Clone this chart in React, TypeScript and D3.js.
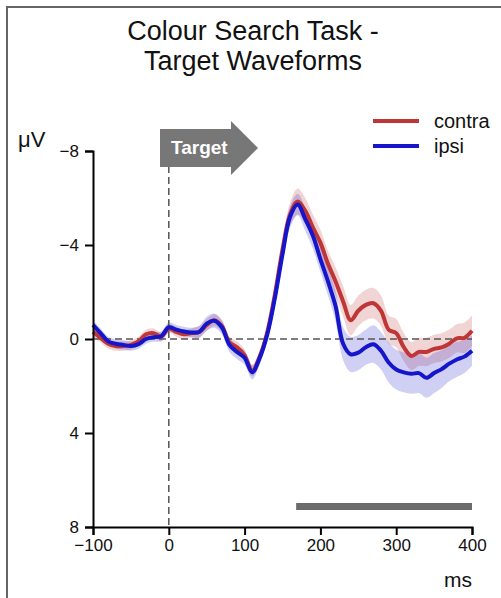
// ERP waveforms for the colour search task: contra vs ipsi, with SEM bands
import React, { useEffect, useRef } from 'react';
import * as d3 from 'd3';

const times = [-100, -90, -80, -70, -60, -50, -40, -30, -20, -10, 0, 10, 20, 30, 40, 50, 60, 70, 80, 90, 100,
  110, 120, 130, 140, 150, 160, 170, 180, 190, 200, 210, 220, 230, 240, 250, 260, 270, 280, 290, 300,
  310, 320, 330, 340, 350, 360, 370, 380, 390, 400];

const contra = [-0.3, -0.05, 0.2, 0.3, 0.3, 0.25, 0.1, -0.2, -0.25, -0.1, -0.45, -0.3, -0.2, -0.25, -0.3, -0.6, -0.8, -0.55, 0.15, 0.35, 0.7,
  1.35, 0.75, -0.3, -1.9, -3.8, -5.3, -5.85, -5.45, -4.75, -4.1, -3.2, -2.45, -1.6, -0.8, -1.2, -1.45, -1.52, -1.2, -0.4, -0.25,
  0.35, 0.72, 0.55, 0.55, 0.42, 0.36, 0.2, -0.03, -0.05, -0.35];

const ipsi = [-0.6, -0.25, 0.1, 0.2, 0.25, 0.3, 0.22, 0.0, -0.08, -0.12, -0.5, -0.4, -0.32, -0.28, -0.3, -0.65, -0.78, -0.5, 0.25, 0.55, 0.8,
  1.42, 0.8, -0.2, -1.75, -3.6, -5.2, -5.72, -5.1, -4.4, -3.4, -2.45, -1.4, 0.2, 0.65, 0.58, 0.35, 0.22, 0.5, 1.0, 1.3,
  1.42, 1.48, 1.45, 1.65, 1.45, 1.28, 1.05, 0.87, 0.75, 0.5];

const contraSem = [0.2, 0.2, 0.2, 0.2, 0.2, 0.2, 0.2, 0.2, 0.2, 0.2, 0.2, 0.2, 0.2, 0.2, 0.25, 0.25, 0.25, 0.25, 0.25, 0.25, 0.25,
  0.25, 0.25, 0.3, 0.35, 0.45, 0.5, 0.55, 0.55, 0.55, 0.55, 0.55, 0.6, 0.65, 0.65, 0.65, 0.65, 0.65, 0.65, 0.6, 0.6,
  0.6, 0.6, 0.6, 0.6, 0.6, 0.6, 0.6, 0.6, 0.65, 0.65];

const ipsiSem = [0.2, 0.2, 0.2, 0.2, 0.2, 0.2, 0.2, 0.2, 0.2, 0.2, 0.2, 0.2, 0.2, 0.2, 0.25, 0.3, 0.3, 0.3, 0.3, 0.3, 0.3,
  0.3, 0.3, 0.3, 0.35, 0.4, 0.45, 0.45, 0.5, 0.55, 0.55, 0.6, 0.65, 0.7, 0.75, 0.75, 0.75, 0.8, 0.8, 0.85, 0.85,
  0.85, 0.85, 0.85, 0.85, 0.85, 0.8, 0.75, 0.75, 0.7, 0.65];

const yTicks = [-8, -4, 0, 4, 8];
const xTicks = [-100, 0, 100, 200, 300, 400];
const sigWindow = [168, 400];
const legendLabels = ['contra', 'ipsi'];

const App = () => {
  const svgRef = useRef<SVGSVGElement>(null);

  useEffect(() => {
    const width = 501;
    const height = 598;
    const font = '"Liberation Sans", Arial, sans-serif';
    const svg = d3.select(svgRef.current)
      .attr('width', width)
      .attr('height', height)
      .style('font-family', font);
    svg.selectAll('*').remove();

    const x = d3.scaleLinear().domain([-100, 400]).range([93, 472]);
    const y = d3.scaleLinear().domain([-8, 8]).range([151, 527]);

    // frame
    svg.append('path')
      .attr('d', `M7,${height} L7,7 L${width},7`)
      .attr('fill', 'none')
      .attr('stroke', '#666')
      .attr('stroke-width', 2);

    // title
    const title = svg.append('text')
      .attr('x', 253)
      .attr('text-anchor', 'middle')
      .attr('font-size', 27)
      .attr('fill', '#111');
    title.append('tspan').attr('x', 253).attr('y', 40).text('Colour Search Task -');
    title.append('tspan').attr('x', 253).attr('y', 70).text('Target Waveforms');

    const series = [
      { name: legendLabels[0], vals: contra, sem: contraSem, color: '#c03535', fill: 'rgba(192, 60, 60, 0.22)' },
      { name: legendLabels[1], vals: ipsi, sem: ipsiSem, color: '#1515cc', fill: 'rgba(40, 40, 210, 0.22)' },
    ];

    // sem bands
    series.forEach(s => {
      const area = d3.area<number>()
        .x((_, i) => x(times[i]))
        .y0((d, i) => y(d - s.sem[i]))
        .y1((d, i) => y(d + s.sem[i]))
        .curve(d3.curveCatmullRom);
      svg.append('path')
        .attr('d', area(s.vals))
        .attr('fill', s.fill);
    });

    // dashed reference lines
    svg.append('line')
      .attr('x1', x(-100)).attr('x2', x(400))
      .attr('y1', y(0)).attr('y2', y(0))
      .attr('stroke', '#555').attr('stroke-width', 1.5)
      .attr('stroke-dasharray', '7,4');
    svg.append('line')
      .attr('x1', x(0)).attr('x2', x(0))
      .attr('y1', 155).attr('y2', y(8))
      .attr('stroke', '#555').attr('stroke-width', 1.5)
      .attr('stroke-dasharray', '7,4');

    // waveforms
    series.forEach(s => {
      const line = d3.line<number>()
        .x((_, i) => x(times[i]))
        .y(d => y(d))
        .curve(d3.curveCatmullRom);
      svg.append('path')
        .attr('d', line(s.vals))
        .attr('fill', 'none')
        .attr('stroke', s.color)
        .attr('stroke-width', 4)
        .attr('stroke-linejoin', 'round');
    });

    // significance bar
    svg.append('rect')
      .attr('x', x(sigWindow[0]))
      .attr('width', x(sigWindow[1]) - x(sigWindow[0]))
      .attr('y', 503)
      .attr('height', 7)
      .attr('fill', '#6b6b6b');

    // axes
    const yAxis = svg.append('g')
      .attr('transform', `translate(${x(-100)},0)`)
      .call(d3.axisLeft(y).tickValues(yTicks).tickSizeOuter(0).tickSize(8).tickPadding(6));
    const xAxis = svg.append('g')
      .attr('transform', `translate(0,${y(8)})`)
      .call(d3.axisBottom(x).tickValues(xTicks).tickSizeOuter(0).tickSize(8).tickPadding(4));
    [yAxis, xAxis].forEach(a => {
      a.selectAll('path, line').attr('stroke', '#000').attr('stroke-width', 2);
      a.selectAll('text').attr('font-size', 17).attr('font-family', font).attr('fill', '#111');
    });

    svg.append('text').attr('x', 18).attr('y', 147).attr('font-size', 22).attr('fill', '#111').text('μV');
    svg.append('text').attr('x', 472).attr('y', 587).attr('text-anchor', 'end').attr('font-size', 21).attr('fill', '#111').text('ms');

    // target arrow
    svg.append('path')
      .attr('d', 'M160,129 L231,129 L231,121 L258,148 L231,175 L231,167 L160,167 Z')
      .attr('fill', '#777');
    svg.append('text')
      .attr('x', 171).attr('y', 154)
      .attr('font-size', 19).attr('font-weight', 'bold').attr('fill', '#fff')
      .text('Target');

    // legend
    series.forEach((s, i) => {
      const ly = 121 + i * 25;
      svg.append('line')
        .attr('x1', 373).attr('x2', 419)
        .attr('y1', ly).attr('y2', ly)
        .attr('stroke', s.color).attr('stroke-width', 4);
      svg.append('text')
        .attr('x', 434).attr('y', ly + 7)
        .attr('font-size', 20).attr('fill', '#111')
        .text(s.name);
    });
  }, []);

  return (
    <div>
      <svg ref={svgRef} style={{ position: 'absolute', left: 0, top: 0 }}></svg>
    </div>
  );
};

export default App;
